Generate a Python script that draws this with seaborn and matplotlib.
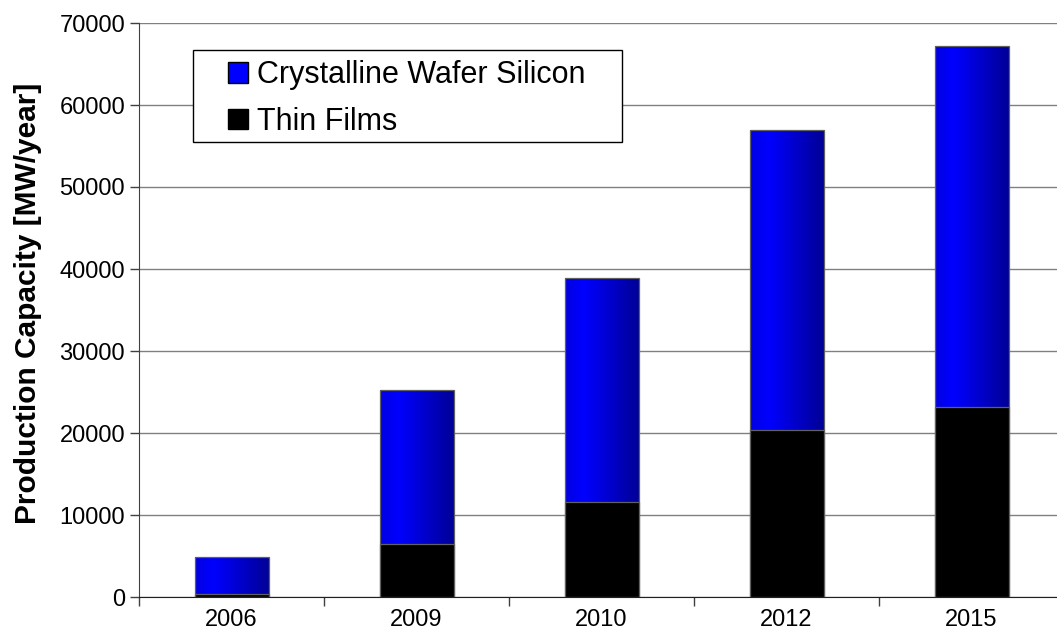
import numpy as np
import pandas as pd
import matplotlib.pyplot as plt
import seaborn as sns
from matplotlib.patches import Patch, Rectangle

years = ['2006', '2009', '2010', '2012', '2015']
thin_films = [350, 6450, 11600, 20400, 23200]
crystalline = [4550, 18750, 27300, 36600, 44000]

df = pd.DataFrame({'year': years, 'thin': thin_films, 'crystalline': crystalline})
df['total'] = df['thin'] + df['crystalline']

sns.set_style('white')
plt.rcParams['font.family'] = ['Liberation Sans', 'DejaVu Sans']
plt.rcParams['text.color'] = 'black'
plt.rcParams['axes.labelcolor'] = 'black'
plt.rcParams['xtick.color'] = 'black'
plt.rcParams['ytick.color'] = 'black'

fig = plt.figure(figsize=(10.57, 6.35), dpi=100)
ax = fig.add_axes([139 / 1057, 38 / 635, 925 / 1057, 574 / 635])

# blue (total) first, black thin films on top
sns.barplot(data=df, x='year', y='total', order=years, color='#0000ff', width=0.4,
            edgecolor='#606060', linewidth=0.9, saturation=1, ax=ax, zorder=3)
n_blue = len(ax.patches)
sns.barplot(data=df, x='year', y='thin', order=years, color='black', width=0.4,
            edgecolor='#606060', linewidth=0.9, saturation=1, ax=ax, zorder=4)

# horizontal gradient on the blue bars
grad = np.linspace(0, 1, 256)
b = np.interp(grad, [0, 0.25, 1], [225, 255, 150]) / 255
img = np.zeros((1, 256, 3))
img[0, :, 2] = b
for p in ax.patches[:n_blue]:
    x0, y0 = p.get_x(), p.get_y()
    w, h = p.get_width(), p.get_height()
    im = ax.imshow(img, extent=[x0, x0 + w, y0, y0 + h], aspect='auto', zorder=2.5,
                   interpolation='bilinear')
    im.set_clip_path(p)
    p.set_facecolor('none')

ax.set_xlim(-0.5, 4.5)
ax.set_ylim(0, 70000)
ax.set_yticks(np.arange(0, 70001, 10000))
ax.yaxis.grid(True, color='#808080', linewidth=1.0)
ax.set_axisbelow(True)

# x ticks between categories
ax.set_xticks(np.arange(-0.5, 5, 1), minor=False, labels=[''] * 6)
ax.set_xticks(np.arange(5), minor=True, labels=years)
ax.tick_params(axis='x', which='major', bottom=True, direction='out', length=6.5,
               width=1, color='#404040')
ax.tick_params(axis='x', which='minor', bottom=True, length=0, labelsize=17, pad=9,
               labelcolor='black')
ax.tick_params(axis='y', left=True, direction='out', length=6.5, width=1, color='#404040',
               labelsize=17, pad=3.5, labelcolor='black')

for s in ['top', 'right']:
    ax.spines[s].set_visible(False)
ax.spines['left'].set_color('#404040')
ax.spines['bottom'].set_color('#202020')

ax.set_xlabel('')
ax.set_ylabel('Production Capacity [MW/year]', fontsize=21.5, fontweight='bold', color='black')
ax.yaxis.set_label_coords(-0.105, 0.512)

# legend box
ax.add_patch(Rectangle((0.0584, 0.7927), 0.4636, 0.1603, transform=ax.transAxes,
                       facecolor='white', edgecolor='black', linewidth=1, zorder=9))
handles = [Patch(facecolor='#0000ff', edgecolor='black', label='Crystalline Wafer Silicon'),
           Patch(facecolor='black', edgecolor='black', label='Thin Films')]
leg = ax.legend(handles=handles, loc='center left', bbox_to_anchor=(0.0962, 0.8685),
                borderaxespad=0, borderpad=0, fontsize=22, frameon=False,
                handlelength=0.65, handleheight=0.65, handletextpad=0.3, labelspacing=0.55)
for t in leg.get_texts():
    t.set_color('black')
leg.set_zorder(10)

plt.savefig('out.png', dpi=100)
